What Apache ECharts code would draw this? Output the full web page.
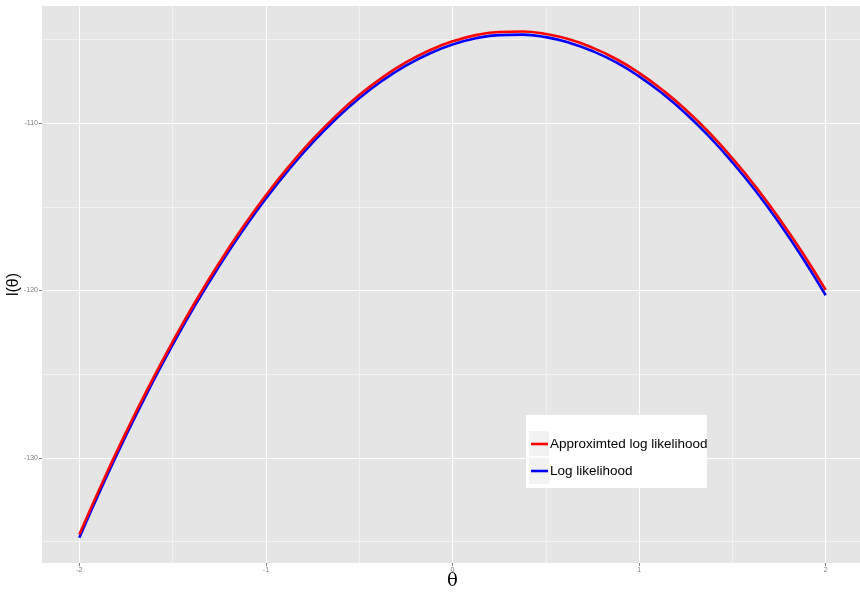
<!DOCTYPE html>
<html>
<head>
<meta charset="utf-8">
<script src="https://cdn.jsdelivr.net/npm/echarts@6/dist/echarts.min.js"></script>
<style>
  html, body { margin: 0; padding: 0; background: #fff; }
  #main { width: 860px; height: 592px; }
</style>
</head>
<body>
<div id="main"></div>
<script>
// theta grid and the two curves
const theta = [-2, -1.875, -1.75, -1.625, -1.5, -1.375, -1.25, -1.125, -1, -0.875, -0.75, -0.625, -0.5,
  -0.375, -0.25, -0.125, 0, 0.125, 0.25, 0.375, 0.5, 0.625, 0.75, 0.875, 1, 1.125, 1.25, 1.375, 1.5,
  1.625, 1.75, 1.875, 2]
const approxLL = [-134.57, -131.43, -128.47, -125.68, -123.06, -120.61, -118.34, -116.24, -114.31,
  -112.56, -110.98, -109.57, -108.33, -107.27, -106.38, -105.67, -105.12, -104.75, -104.56, -104.53,
  -104.68, -105.00, -105.50, -106.16, -107.00, -108.02, -109.20, -110.56, -112.10, -113.80, -115.68,
  -117.73, -119.96]
const logLL = [-134.76, -131.62, -128.66, -125.87, -123.25, -120.80, -118.53, -116.43, -114.50,
  -112.75, -111.17, -109.76, -108.52, -107.46, -106.57, -105.86, -105.31, -104.94, -104.75, -104.72,
  -104.87, -105.20, -105.70, -106.36, -107.21, -108.24, -109.43, -110.80, -112.35, -114.06, -115.96,
  -118.03, -120.28]
const seriesNames = ['Approximted log likelihood', 'Log likelihood']

const xMin = -2.2, xMax = 2.2
const yMin = -136.27, yMax = -103.01

const pairs = (ys) => theta.map((t, i) => [t, ys[i]])

const gridAxis = (min, max, step, n, colors) => ({
  type: 'value', min: min, max: max, splitNumber: n,
  minInterval: step, maxInterval: step,
  axisLine: { show: false, onZero: false }, axisTick: { show: false }, axisLabel: { show: false },
  splitLine: {
    show: true, showMinLine: false, showMaxLine: false,
    lineStyle: { color: colors, width: 1 },
  },
})

const labelAxis = (min, max, step, n) => ({
  type: 'value', min: min, max: max, splitNumber: n,
  minInterval: step, maxInterval: step,
  axisLine: { show: false, onZero: false },
  axisTick: { show: true, length: 3, lineStyle: { color: '#7F7F7F', width: 1 } },
  axisLabel: { show: true, fontSize: 7, color: '#7F7F7F', margin: 4,
    showMinLabel: false, showMaxLabel: false, fontFamily: 'Liberation Sans' },
  splitLine: { show: false },
  nameMoveOverlap: false,
})

const xGrid = gridAxis(xMin, xMax, 0.5, 9, ['#FFFFFF', '#F2F2F2'])
xGrid.position = 'bottom'
const yGrid = gridAxis(yMin, yMax, 5, 7, ['#F2F2F2', '#FFFFFF'])

const xLab = labelAxis(xMin, xMax, 1, 4)
xLab.position = 'bottom'
xLab.name = 'θ'
xLab.nameLocation = 'middle'
xLab.nameGap = 9
xLab.nameTextStyle = { fontSize: 18, color: '#000', fontFamily: 'DejaVu Serif', verticalAlign: 'top' }

const yLab = labelAxis(yMin, yMax, 10, 3)
yLab.position = 'left'
yLab.name = 'l(θ)'
yLab.nameLocation = 'middle'
yLab.nameGap = 20
yLab.nameTextStyle = { fontSize: 16, color: '#000', fontFamily: 'Liberation Sans' }

const chart = echarts.init(document.getElementById('main'))
chart.setOption({
  animation: false,
  backgroundColor: '#fff',
  grid: {
    left: 42, right: -3, top: 6, bottom: 29,
    outerBoundsMode: 'none', containLabel: false,
    show: true, backgroundColor: '#E5E5E5', borderWidth: 0,
  },
  xAxis: [xGrid, xLab],
  yAxis: [yGrid, yLab],
  graphic: [
    { type: 'rect', z: 10, shape: { x: 526, y: 415, width: 181, height: 73 }, style: { fill: '#fff' } },
    { type: 'rect', z: 11, shape: { x: 529, y: 431, width: 20, height: 25 }, style: { fill: '#F2F2F2' } },
    { type: 'rect', z: 11, shape: { x: 529, y: 458, width: 20, height: 26 }, style: { fill: '#F2F2F2' } },
  ],
  legend: {
    z: 20,
    orient: 'vertical',
    left: 531, top: 437,
    padding: 0,
    itemGap: 13,
    itemWidth: 17, itemHeight: 24,
    icon: 'path://M0,0H17V2.6H0Z',
    data: seriesNames,
    textStyle: { fontSize: 13.5, color: '#000', fontFamily: 'Liberation Sans', padding: [0, 0, 0, -3] },
  },
  series: [
    {
      name: seriesNames[1], type: 'line', xAxisIndex: 0, yAxisIndex: 0,
      data: pairs(logLL), smooth: true, showSymbol: false, symbol: 'none',
      lineStyle: { color: '#0000FF', width: 2.6 }, itemStyle: { color: '#0000FF' },
    },
    {
      name: seriesNames[0], type: 'line', xAxisIndex: 0, yAxisIndex: 0,
      data: pairs(approxLL), smooth: true, showSymbol: false, symbol: 'none',
      lineStyle: { color: '#FF0000', width: 2.6 }, itemStyle: { color: '#FF0000' },
    },
  ],
})
</script>
</body>
</html>
